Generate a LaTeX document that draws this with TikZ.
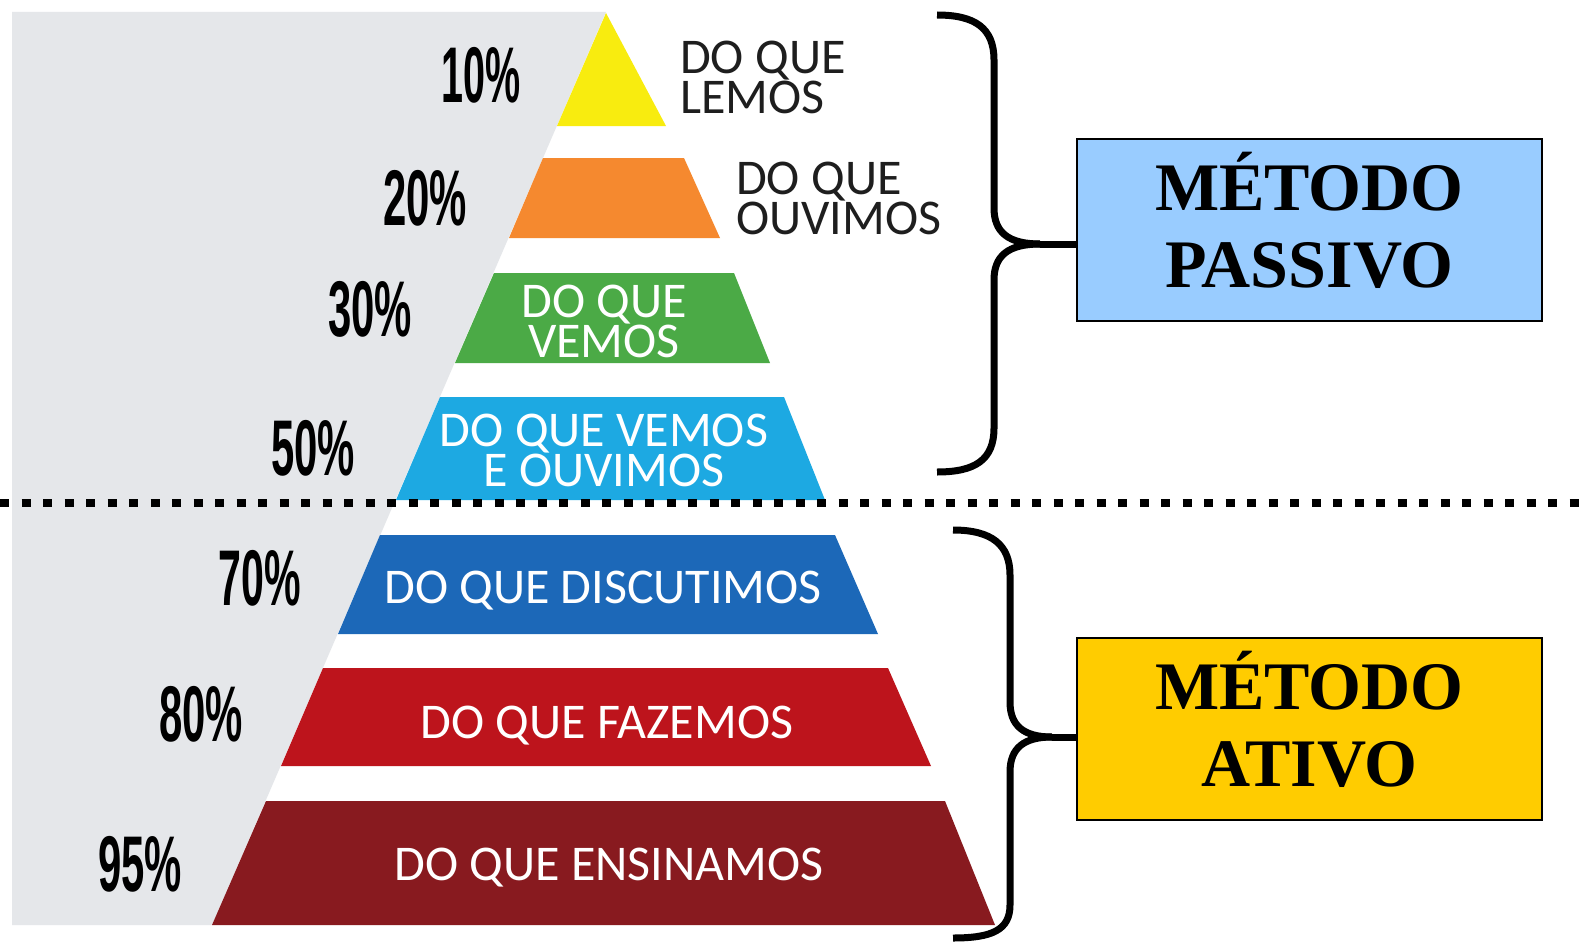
\documentclass[tikz,border=0pt]{standalone}
\usepackage{fontspec}
\setmainfont{Liberation Serif}
\newfontfamily\labfont{Carlito}
\newfontfamily\pctfont{Liberation Sans}
\definecolor{bggrey}{HTML}{E5E7EA}
\definecolor{cyel}{HTML}{F8EC0F}
\definecolor{cora}{HTML}{F5892F}
\definecolor{cgre}{HTML}{4BAA46}
\definecolor{clbl}{HTML}{1DA9E2}
\definecolor{cdbl}{HTML}{1C68B8}
\definecolor{cred}{HTML}{BD141C}
\definecolor{cdrd}{HTML}{881A1F}
\definecolor{boxblue}{HTML}{99CCFF}
\definecolor{boxgold}{HTML}{FFCC00}
\definecolor{labdark}{HTML}{1E1E1E}
\tikzset{
  pct/.style={font=\pctfont\bfseries\fontsize{79}{80}\selectfont, text=black, inner sep=0pt},
  lab/.style={font=\labfont\fontsize{50}{40}\selectfont, inner sep=0pt},
  labw/.style={lab, text=white, align=center},
  labk/.style={lab, text=labdark, align=left},
  mbox/.style={draw=black, line width=2.5pt, minimum width=465pt, minimum height=182pt, inner sep=0pt},
  mtext/.style={font=\bfseries\fontsize{68}{77}\selectfont, align=center, inner sep=0pt, text=black},
  bracebar/.style={line width=7pt, draw=black},
  sepline/.style={line width=8pt, draw=black, dash pattern=on 9pt off 12.5pt}
}
\begin{document}
\begin{tikzpicture}[x=1pt,y=-1pt]
\useasboundingbox (0,0) rectangle (1587,942);
\fill[white] (0,0) rectangle (1587,942);
% grey background
\fill[bggrey] (12,12) -- (606,12) -- (212,925) -- (12,925) -- cycle;
% pyramid layers
\fill[cyel] (606,13) -- (666,126) -- (557,126) -- cycle;
\fill[cora] (543,158) -- (684,158) -- (720,238) -- (509,238) -- cycle;
\fill[cgre] (494,273) -- (734,273) -- (770,363) -- (455,363) -- cycle;
\fill[clbl] (440,397) -- (784,397) -- (825,500) -- (396,500) -- cycle;
\fill[cdbl] (380,535) -- (835,535) -- (878,634) -- (338,634) -- cycle;
\fill[cred] (323,668) -- (888,668) -- (931,766) -- (281,766) -- cycle;
\fill[cdrd] (266,801) -- (945,801) -- (995,925) -- (212,925) -- cycle;
% percentages
\node[pct] (p10) at (481,75) {\scalebox{0.5}[1]{10\%}};
\node[pct] (p20) at (425,198) {\scalebox{0.53}[1]{20\%}};
\node[pct] (p30) at (370,309) {\scalebox{0.53}[1]{30\%}};
\node[pct] (p50) at (313,448) {\scalebox{0.53}[1]{50\%}};
\node[pct] (p70) at (260,578) {\scalebox{0.52}[1]{70\%}};
\node[pct] (p80) at (201,714) {\scalebox{0.53}[1]{80\%}};
\node[pct] (p95) at (140,864) {\scalebox{0.53}[1]{95\%}};
% labels
\node[labk, anchor=north west] (l10) at (680,41) {DO QUE\\LEMOS};
\node[labk, anchor=north west] (l20) at (736,162) {DO QUE\\OUVIMOS};
\node[labw, anchor=north] (l30) at (604,285) {DO QUE\\VEMOS};
\node[labw, anchor=north] (l50) at (604,414) {DO QUE VEMOS\\E OUVIMOS};
\node[labw, anchor=base] (l70) at (603,603) {DO QUE DISCUTIMOS};
\node[labw, anchor=base] (l80) at (607,738) {DO QUE FAZEMOS};
\node[labw, anchor=base] (l95) at (609,880) {DO QUE ENSINAMOS};
% separator
\coordinate (sepL) at (0,502.5);
\coordinate (sepR) at (1587,502.5);
\draw[sepline] (sepL) -- (sepR);
% boxes
\node[mbox, fill=boxblue] (boxP) at (1309.5,230) {};
\node[mtext] (txtP) at ([yshift=10pt]boxP.center) {MÉTODO\\PASSIVO};
\node[mbox, fill=boxgold] (boxA) at (1309.5,729) {};
\node[mtext] (txtA) at ([yshift=10pt]boxA.center) {MÉTODO\\ATIVO};
% braces
\coordinate (tP) at (1040,244);
\coordinate (tA) at (1052,737);
\draw[bracebar] (937,15) .. controls (975,15) and (994,28) .. (994,60) -- (994,208)
   .. controls (994,232) and (1008,244) .. (tP);
\draw[bracebar] (tP) .. controls (1008,244) and (994,256) .. (994,280) -- (994,428)
   .. controls (994,460) and (975,472) .. (937,472);
\draw[bracebar] (tP) -- (boxP.west |- tP);
\draw[bracebar] (953,530) .. controls (992,530) and (1010,545) .. (1010,575) -- (1010,702)
   .. controls (1010,726) and (1024,737) .. (tA);
\draw[bracebar] (tA) .. controls (1024,737) and (1010,748) .. (1010,772) -- (1010,905)
   .. controls (1010,930) and (992,938) .. (953,938);
\draw[bracebar] (tA) -- (boxA.west |- tA);
\end{tikzpicture}
\end{document}
